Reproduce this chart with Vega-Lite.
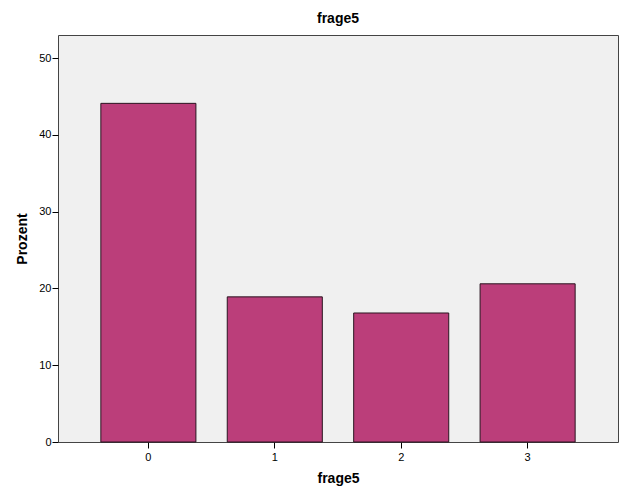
{
  "$schema": "https://vega.github.io/schema/vega-lite/v6.json",
  "autosize": {"type": "none"},
  "width": 560,
  "height": 407,
  "padding": {"left": 58, "top": 35, "right": 8, "bottom": 59},
  "background": "white",
  "title": {"text": "frage5", "font": "Liberation Sans", "fontSize": 14, "fontWeight": "bold", "color": "#000000", "offset": 9},
  "data": {"values": [
    {"frage5": "0", "Prozent": 44.1},
    {"frage5": "1", "Prozent": 18.9},
    {"frage5": "2", "Prozent": 16.8},
    {"frage5": "3", "Prozent": 20.6}
  ]},
  "config": {
    "view": {"fill": "#f0f0f0", "stroke": "#444444", "strokeWidth": 1},
    "axis": {"labelFont": "Liberation Sans", "titleFont": "Liberation Sans", "labelColor": "#000000", "titleColor": "#000000", "tickColor": "#000000", "grid": false, "domain": false}
  },
  "mark": {"type": "bar", "fill": "#bb3e7a", "stroke": "#2a1520", "strokeWidth": 1},
  "encoding": {
    "x": {"field": "frage5", "type": "nominal", "title": "frage5",
      "scale": {"paddingInner": 0.248, "paddingOuter": 0.339},
      "axis": {"labelAngle": 0, "labelFontSize": 11, "titleFontSize": 14, "titleFontWeight": "bold", "tickSize": 6, "labelPadding": 3, "titlePadding": 9}},
    "y": {"field": "Prozent", "type": "quantitative", "title": "Prozent",
      "scale": {"domain": [0, 53], "nice": false},
      "axis": {"values": [0, 10, 20, 30, 40, 50], "labelFontSize": 11, "titleFontSize": 14, "titleFontWeight": "bold", "tickSize": 6, "labelPadding": 1, "titlePadding": 9}}
  }
}
